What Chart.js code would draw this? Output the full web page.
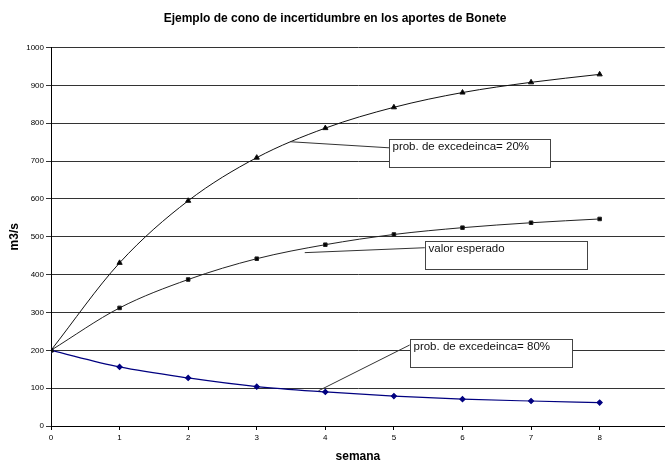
<!DOCTYPE html>
<html>
<head>
<meta charset="utf-8">
<script src="https://cdn.jsdelivr.net/npm/chart.js@4"></script>
<style>
  html, body { margin: 0; padding: 0; background: #fff; overflow: hidden; }
  #wrap { width: 670px; height: 464px; }
</style>
</head>
<body>
<div id="wrap"><canvas id="chart"></canvas></div>
<script>
  // Data
  const semanas = [0, 1, 2, 3, 4, 5, 6, 7, 8];
  const prob20 = [200, 431, 595, 709, 787, 842, 881, 908, 929];
  const esperado = [200, 312, 387, 442, 479, 506, 524, 537, 547];
  const prob80 = [200, 156, 127, 104, 90, 79, 71, 66, 62];
  const notas = ['prob. de excedeinca= 20%', 'valor esperado', 'prob. de excedeinca= 80%'];

  // Where the callout boxes and their leader lines sit (in data units)
  const notaLayout = [
    { box: [4.93, 759, 7.28, 683], lead: [3.49, 751, 4.93, 735] },
    { box: [5.45, 489, 7.82, 415], lead: [3.70, 458, 5.45, 471] },
    { box: [5.23, 230, 7.59, 156], lead: [3.90, 93, 5.23, 214] }
  ];

  const toPoints = (ys) => semanas.map((x, i) => ({ x: x, y: ys[i] }));

  // Helper: draws the Excel-like text boxes with leader lines
  const calloutPlugin = {
    id: 'callouts',
    afterDatasetsDraw(chart) {
      const ctx = chart.ctx;
      const xs = chart.scales.x, ys = chart.scales.y;
      ctx.save();
      notaLayout.forEach((n, i) => {
        // leader line
        ctx.strokeStyle = '#333';
        ctx.lineWidth = 1;
        ctx.beginPath();
        ctx.moveTo(xs.getPixelForValue(n.lead[0]), ys.getPixelForValue(n.lead[1]));
        ctx.lineTo(xs.getPixelForValue(n.lead[2]), ys.getPixelForValue(n.lead[3]));
        ctx.stroke();

        // box
        const l = Math.round(xs.getPixelForValue(n.box[0])) + 0.5;
        const t = Math.round(ys.getPixelForValue(n.box[1])) + 0.5;
        const r = Math.round(xs.getPixelForValue(n.box[2])) + 0.5;
        const b = Math.round(ys.getPixelForValue(n.box[3])) + 0.5;
        ctx.fillStyle = '#fff';
        ctx.fillRect(l, t, r - l, b - t);
        ctx.strokeStyle = '#444';
        ctx.strokeRect(l, t, r - l, b - t);

        // text
        ctx.fillStyle = '#111';
        ctx.font = '11.5px "Liberation Sans", Arial, sans-serif';
        ctx.textBaseline = 'top';
        ctx.textAlign = 'left';
        ctx.fillText(notas[i], l + 3, t + 2);
      });
      ctx.restore();
    }
  };

  new Chart(document.getElementById('chart'), {
    type: 'line',
    data: {
      datasets: [
        {
          label: 'prob. de excedencia 20%',
          data: toPoints(prob20),
          borderColor: '#111',
          backgroundColor: '#000',
          borderWidth: 1,
          pointStyle: 'triangle',
          pointRadius: 3,
          cubicInterpolationMode: 'monotone'
        },
        {
          label: 'valor esperado',
          data: toPoints(esperado),
          borderColor: '#222',
          backgroundColor: '#000',
          borderWidth: 1,
          pointStyle: 'rect',
          pointRadius: 2.5,
          cubicInterpolationMode: 'monotone'
        },
        {
          label: 'prob. de excedencia 80%',
          data: toPoints(prob80),
          borderColor: '#000080',
          backgroundColor: '#000080',
          borderWidth: 1.2,
          pointStyle: 'rectRot',
          pointRadius: 2.5,
          cubicInterpolationMode: 'monotone'
        }
      ]
    },
    options: {
      responsive: true,
      maintainAspectRatio: false,
      animation: false,
      layout: { padding: { left: 0, right: 0, top: 0, bottom: 0 } },
      plugins: {
        legend: { display: false },
        tooltip: { enabled: false },
        title: {
          display: true,
          text: 'Ejemplo de cono de incertidumbre en los aportes de Bonete',
          color: '#000',
          font: { family: '"Liberation Sans", Arial, sans-serif', size: 12, weight: 'bold' },
          padding: { top: 11.5, bottom: 21.6 }
        }
      },
      scales: {
        x: {
          type: 'linear',
          min: 0,
          max: 8.95,
          afterFit: (scale) => {
            scale.height = 38;
            scale.paddingLeft = 0;
            scale.paddingRight = 0;
          },
          border: { display: true, color: '#000', width: 1 },
          grid: { drawOnChartArea: false, drawTicks: true, tickLength: 4, color: '#000' },
          ticks: {
            stepSize: 1,
            includeBounds: false,
            padding: 3,
            maxRotation: 0,
            color: '#000',
            font: { family: '"Liberation Sans", Arial, sans-serif', size: 8 },
            callback: (v) => (Number.isInteger(v) ? String(v) : '')
          },
          title: {
            display: true,
            text: 'semana',
            color: '#000',
            font: { family: '"Liberation Sans", Arial, sans-serif', size: 12, weight: 'bold' },
            padding: { top: 0, bottom: 0 }
          }
        },
        y: {
          min: 0,
          max: 1000,
          afterFit: (scale) => { scale.width = 51; },
          border: { display: true, color: '#000', width: 1 },
          grid: { color: '#333', lineWidth: 1, tickLength: 5, drawTicks: true },
          ticks: {
            stepSize: 100,
            padding: 2,
            color: '#000',
            font: { family: '"Liberation Sans", Arial, sans-serif', size: 8 },
            callback: (v) => String(v)
          },
          title: {
            display: true,
            text: 'm3/s',
            color: '#000',
            font: { family: '"Liberation Sans", Arial, sans-serif', size: 12, weight: 'bold' },
            padding: { top: 7, bottom: 0 }
          }
        }
      }
    },
    plugins: [calloutPlugin]
  });
</script>
</body>
</html>
